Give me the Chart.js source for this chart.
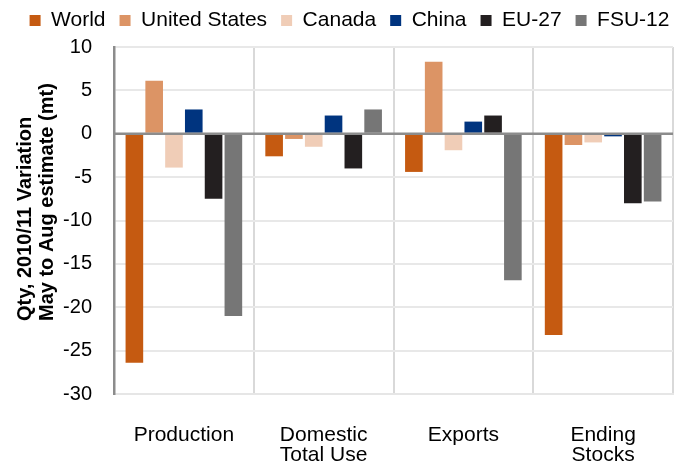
<!DOCTYPE html>
<html>
<head>
<meta charset="utf-8">
<script src="https://cdn.jsdelivr.net/npm/chart.js@4"></script>
<style>
  body { margin: 0; background: #fff; }
</style>
</head>
<body>
<canvas id="chart" width="686" height="463"></canvas>
<script>
// categories and tick range
const categories = [['Production'], ['Domestic', 'Total Use'], ['Exports'], ['Ending', 'Stocks']];
const yMin = -30, yMax = 10, yStep = 5;
const yTitle = ['Qty, 2010/11 Variation', 'May to Aug estimate (mt)'];

// change May -> Aug estimate, per region
const world        = [-26.4, -2.6, -4.4, -23.2];
const unitedStates = [6.1, -0.6, 8.3, -1.3];
const canada       = [-3.9, -1.5, -1.9, -1.0];
const china        = [2.8, 2.1, 1.4, -0.3];
const eu27         = [-7.5, -4.0, 2.1, -8.0];
const fsu12        = [-21.0, 2.8, -16.9, -7.8];

const FONT = 'Liberation Sans, Arial, sans-serif';

// legend nudge, zero line over the bars, left-aligned two line axis title
const extras = {
    id: 'extras',
    afterInit(chart) {
        const lg = chart.legend;
        if (lg) {
            const fit = lg.fit;
            lg.fit = function () { fit.call(this); this.height += 2; };
            const draw = lg.draw;
            lg.draw = function () {
                const c = this.ctx;
                c.save();
                c.translate(13, -4);
                draw.call(this);
                c.restore();
            };
        }
    },
    afterDatasetsDraw(chart) {
        const { ctx, chartArea, scales } = chart;
        const y = scales.y.getPixelForValue(0);
        ctx.save();
        ctx.strokeStyle = '#8c8c8c';
        ctx.lineWidth = 2.5;
        ctx.beginPath();
        ctx.moveTo(chartArea.left, y);
        ctx.lineTo(chartArea.right, y);
        ctx.stroke();
        ctx.restore();
    },
    afterDraw(chart) {
        const { ctx, chartArea } = chart;
        ctx.save();
        ctx.translate(0, chartArea.bottom - 73);
        ctx.rotate(-Math.PI / 2);
        ctx.fillStyle = '#000';
        ctx.font = 'bold 20px ' + FONT;
        ctx.textAlign = 'left';
        ctx.textBaseline = 'alphabetic';
        ctx.fillText(yTitle[0], 0, 30.5);
        ctx.fillText(yTitle[1], 0, 52.5);
        ctx.restore();
    }
};

function ds(label, data, color) {
    return { label, data, backgroundColor: color, borderWidth: 0,
             categoryPercentage: 0.85, barPercentage: 0.89 };
}

new Chart(document.getElementById('chart').getContext('2d'), {
    type: 'bar',
    data: {
        labels: categories,
        datasets: [
            ds('World', world, '#C55A11'),
            ds('United States', unitedStates, '#DC9465'),
            ds('Canada', canada, '#F0CDB7'),
            ds('China', china, '#00347F'),
            ds('EU-27', eu27, '#231F20'),
            ds('FSU-12', fsu12, '#767676')
        ]
    },
    options: {
        responsive: false,
        animation: false,
        layout: { padding: { top: 0, right: 13, bottom: 0, left: 0 } },
        plugins: {
            tooltip: { enabled: false },
            legend: {
                position: 'top',
                labels: {
                    color: '#000',
                    font: { family: FONT, size: 21 },
                    boxWidth: 11,
                    boxHeight: 11,
                    padding: 14
                }
            }
        },
        scales: {
            x: {
                grid: { offset: true, color: '#d9d9d9', lineWidth: 2, drawTicks: false },
                border: { color: '#e6e6e6', width: 2 },
                ticks: { color: '#000', font: { family: FONT, size: 21, lineHeight: 0.95 }, padding: 31, maxRotation: 0 },
                afterFit: s => { s.height = 69; }
            },
            y: {
                min: yMin,
                max: yMax,
                ticks: { stepSize: yStep, color: '#000', font: { family: FONT, size: 20 }, padding: 22 },
                grid: {
                    drawTicks: false,
                    color: c => c.tick && c.tick.value === 0 ? '#8c8c8c' : '#e8e8e8',
                    lineWidth: 2
                },
                border: { color: '#8c8c8c', width: 2.5 },
                afterFit: s => { s.width = 114; }
            }
        }
    },
    plugins: [extras]
});
</script>
</body>
</html>
